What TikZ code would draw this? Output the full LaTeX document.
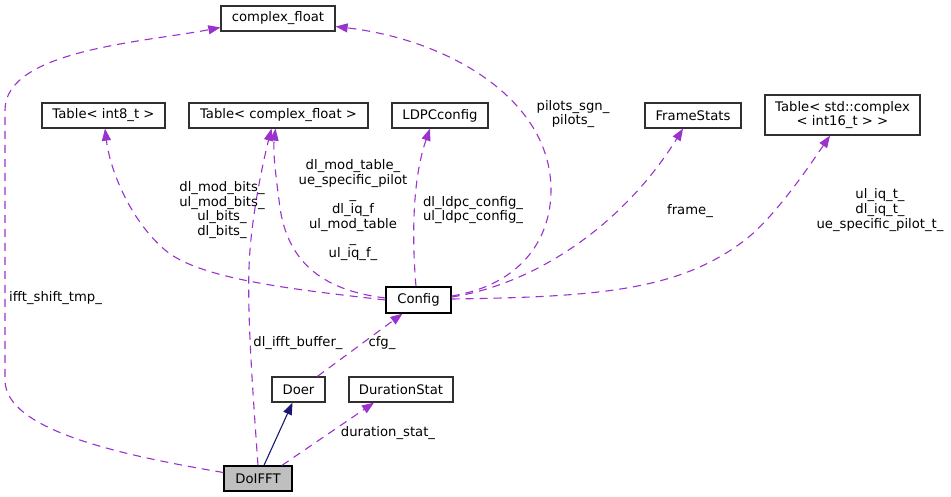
\documentclass[tikz,border=0pt]{standalone}
\usepackage{fontspec}
\setmainfont{DejaVu Sans}
\usetikzlibrary{arrows.meta}
\definecolor{edgepurple}{HTML}{9A32CD}
\definecolor{inhblue}{HTML}{191970}
\definecolor{boxgray}{HTML}{303030}
\definecolor{selfill}{HTML}{BFBFBF}
\begin{document}
\begin{tikzpicture}[x=1pt,y=-1pt,
  every node/.style={font=\fontsize{13.2}{14.7}\selectfont},
  cbox/.style={draw=boxgray,line width=1.3pt,fill=white,inner sep=0pt,minimum height=25pt,align=center},
  elabel/.style={inner sep=0pt,align=center},
  member/.style={draw=edgepurple,line width=1.1pt,dash pattern=on 8pt off 6pt,-{Triangle[length=12pt,width=9pt]}},
  inherit/.style={draw=inhblue,line width=1.1pt,-{Triangle[length=12pt,width=9pt]}}]
\useasboundingbox (0,0) rectangle (951,497);
\fill[white] (0,0) rectangle (951,497);

% nodes
\node[cbox,minimum width=114pt] (cfloat) at (278,18.5) {complex\_float};
\node[cbox,minimum width=123pt] (tint8) at (103.5,115.5) {Table< int8\_t >};
\node[cbox,minimum width=179pt] (tcf) at (278.5,115.5) {Table< complex\_float >};
\node[cbox,minimum width=96pt] (ldpc) at (440,115.5) {LDPCconfig};
\node[cbox,minimum width=96pt] (frame) at (693,115.5) {FrameStats};
\node[cbox,minimum width=155pt,minimum height=40pt] (tint16) at (842.5,115) {Table< std::complex\\< int16\_t > >};
\node[cbox,draw=black,minimum width=65pt,minimum height=26pt] (config) at (418.5,300) {Config};
\node[cbox,minimum width=53pt] (doer) at (298.5,389.5) {Doer};
\node[cbox,minimum width=104pt] (dur) at (401,389.5) {DurationStat};
\node[cbox,draw=black,fill=selfill,minimum width=68pt] (doifft) at (258,478.5) {DoIFFT};

% edges from DoIFFT
\draw[member] ([yshift=6]doifft.west) .. controls (120,455) and (5,430) .. (5,380)
   -- (5,110) .. controls (5,50) and (145,42) .. ([yshift=-9]cfloat.west);
\node[elabel,anchor=west] (lshift) at (9,298) {ifft\_shift\_tmp\_};

\draw[member] (doifft.north) .. controls (252,380) and (246,300) .. (250,250)
   .. controls (254,200) and (266,150) .. ([xshift=-7]tcf.south);
\node[elabel] (lbuf) at (298,343) {dl\_ifft\_buffer\_};

\draw[inherit] ([xshift=6]doifft.north) -- ([xshift=-6]doer.south);

\draw[member] ([xshift=24]doifft.north) -- ([xshift=-27]dur.south);
\node[elabel] (ldur) at (388,433) {duration\_stat\_};

\draw[member] ([xshift=19]doer.north) -- ([xshift=-16]config.south);
\node[elabel] (lcfg) at (382,343) {cfg\_};

% edges from Config
\draw[member] ([yshift=4]config.east) .. controls (520,285) and (551,240) .. (551,190)
   .. controls (551,100) and (450,40) .. ([yshift=-8]cfloat.east);
\node[elabel] (lpil) at (573,114) {pilots\_sgn\_\\pilots\_};

\draw[member] ([yshift=2]config.west) .. controls (320,290) and (285,260) .. (279,200)
   .. controls (275,170) and (273,150) .. ([xshift=-3]tcf.south);
\node[elabel] (ltab) at (353,210) {dl\_mod\_table\_\\ue\_specific\_pilot\\\_\\dl\_iq\_f\\ul\_mod\_table\\\_\\ul\_iq\_f\_};

\draw[member] (config.west) .. controls (300,290) and (200,280) .. (165,250)
   .. controls (130,220) and (110,170) .. ([xshift=1.5]tint8.south);
\node[elabel] (lbits) at (222,210) {dl\_mod\_bits\_\\ul\_mod\_bits\_\\ul\_bits\_\\dl\_bits\_};

\draw[member] ([xshift=-2.5]config.north) .. controls (412,240) and (412,180) .. ([xshift=-10]ldpc.south);
\node[elabel] (lldpc) at (473,210) {dl\_ldpc\_config\_\\ul\_ldpc\_config\_};

\draw[member] ([yshift=3]config.east) .. controls (530,285) and (620,230) .. ([xshift=-10]frame.south);
\node[elabel] (lframe) at (690,211) {frame\_};

\draw[member] ([yshift=1]config.east) .. controls (600,297) and (680,290) .. (745,240)
   .. controls (775,217) and (810,165) .. ([xshift=-12.5]tint16.south);
\node[elabel] (liq) at (880,210) {ul\_iq\_t\_\\dl\_iq\_t\_\\ue\_specific\_pilot\_t\_};
\end{tikzpicture}
\end{document}
